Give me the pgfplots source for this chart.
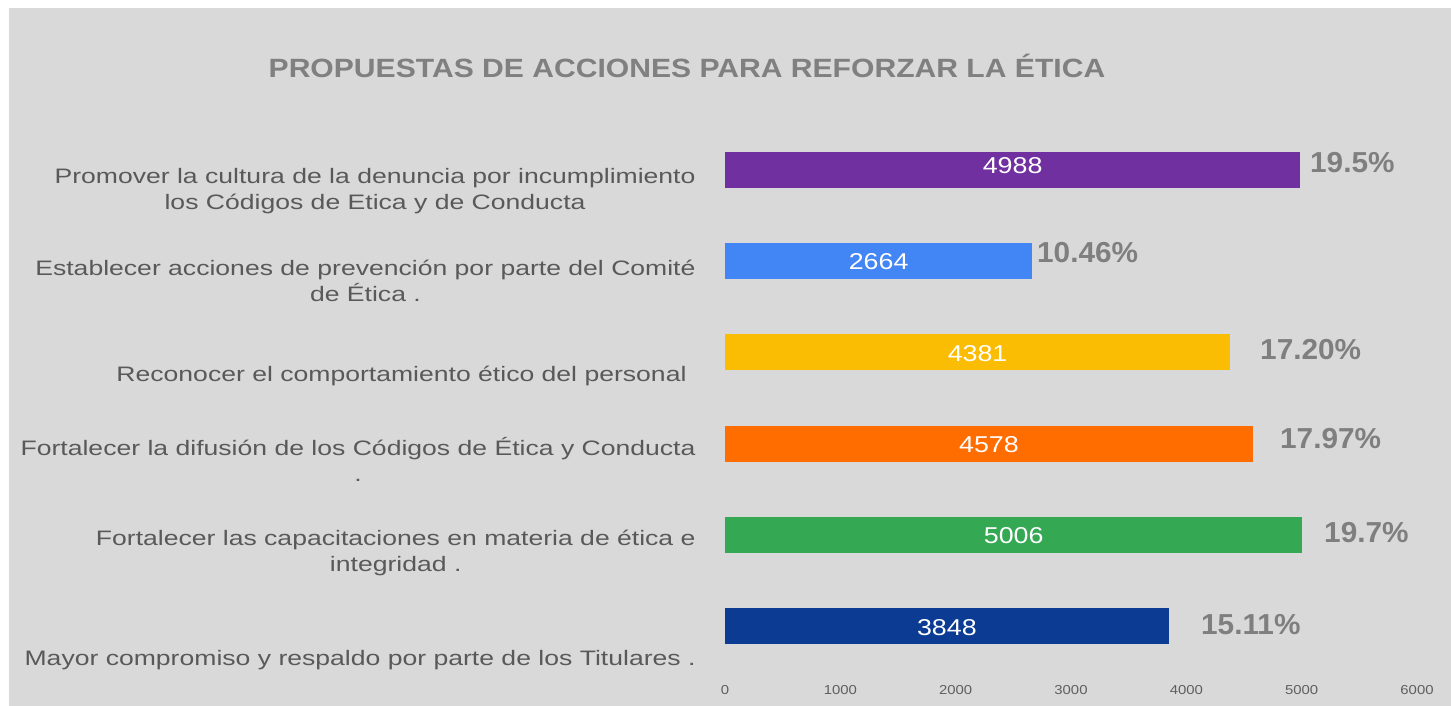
\documentclass[border=0pt]{standalone}
\usepackage{pgfplots}
\pgfplotsset{compat=1.18}
\usepackage{fontspec}
\setmainfont{Liberation Sans}
\newfontfamily\catfont[FakeStretch=1.27]{Liberation Sans}
\newfontfamily\titlefont[FakeStretch=1.14]{Liberation Sans}
\newfontfamily\valfont[FakeStretch=1.17]{Liberation Sans}
\newfontfamily\tickfont[FakeStretch=1.15]{Liberation Sans}
\newfontfamily\pctfont[FakeStretch=1.03]{Liberation Sans}
\definecolor{bg}{HTML}{D9D9D9}
\definecolor{titlegray}{HTML}{808080}
\definecolor{pctgray}{HTML}{7F7F7F}
\definecolor{catgray}{HTML}{595959}
\definecolor{tickgray}{HTML}{5F5F5F}
\definecolor{cpurple}{HTML}{7030A0}
\definecolor{cblue}{HTML}{4285F4}
\definecolor{cyellow}{HTML}{FBBC04}
\definecolor{corange}{HTML}{FF6D01}
\definecolor{cgreen}{HTML}{34A853}
\definecolor{cnavy}{HTML}{0B3B93}
\tikzset{
  val/.style={anchor=center, inner sep=0pt, text=white, font=\valfont\fontsize{23}{23}\selectfont},
  pct/.style={anchor=west, inner sep=0pt, text=pctgray, font=\pctfont\bfseries\fontsize{29}{29}\selectfont},
}
\begin{document}
\begin{tikzpicture}
\path[use as bounding box] (0,0) rectangle (1451bp,706bp);
\fill[white] (0,0) rectangle (1451bp,706bp);
\fill[bg] (9bp,0) rectangle (1451bp,698bp);
\node[anchor=base, inner sep=0pt, text=titlegray, font=\titlefont\bfseries\fontsize{26.5}{30}\selectfont] at (687bp,628.7bp) {PROPUESTAS DE ACCIONES PARA REFORZAR LA ÉTICA};
\begin{axis}[
  at={(725bp,34.4bp)}, anchor=south west, scale only axis,
  width=692bp, height=547.2bp,
  xmin=0, xmax=6000, ymin=-0.5, ymax=5.5,
  xbar, bar width=36bp,
  axis line style={draw=none}, tick style={draw=none},
  xtick={0,1000,2000,3000,4000,5000,6000},
  xticklabels={0,1000,2000,3000,4000,5000,6000},
  x tick label style={anchor=center, yshift=-18.1bp, font=\tickfont\fontsize{13}{13}\selectfont, text=tickgray},
  ytick={-0.371,0.797,1.830,2.740,3.784,4.772},
  yticklabels={
    {Mayor compromiso y respaldo por parte de los Titulares .},
    {Fortalecer las capacitaciones en materia de ética e\\integridad .},
    {Fortalecer la difusión de los Códigos de Ética y Conducta\\.},
    {Reconocer el comportamiento ético del personal\hspace*{9bp}},
    {Establecer acciones de prevención por parte del Comité\\de Ética .},
    {Promover la cultura de la denuncia por incumplimiento\\los Códigos de Etica y de Conducta}},
  y tick label style={anchor=east, inner sep=0pt, xshift=-25bp, align=center, font=\catfont\fontsize{21}{26}\selectfont, text=catgray},
  clip=false,
]
\addplot[fill=cnavy, draw=none, bar shift=0pt] coordinates {(3848,0)};
\addplot[fill=cgreen, draw=none, bar shift=0pt] coordinates {(5006,1)};
\addplot[fill=corange, draw=none, bar shift=0pt] coordinates {(4578,2)};
\addplot[fill=cyellow, draw=none, bar shift=0pt] coordinates {(4381,3)};
\addplot[fill=cblue, draw=none, bar shift=0pt] coordinates {(2664,4)};
\addplot[fill=cpurple, draw=none, bar shift=0pt] coordinates {(4988,5)};
\node[val] at (axis cs:2494,5.047) {4988};
\node[val] at (axis cs:1332,4.0) {2664};
\node[val] at (axis cs:2190,2.99) {4381};
\node[val] at (axis cs:2289,1.99) {4578};
\node[val] at (axis cs:2503,0.99) {5006};
\node[val] at (axis cs:1924,-0.02) {3848};
\node[pct] at (axis cs:5072,5.077) {19.5\%};
\node[pct] at (axis cs:2705,4.099) {10.46\%};
\node[pct] at (axis cs:4639,3.033) {17.20\%};
\node[pct] at (axis cs:4812,2.055) {17.97\%};
\node[pct] at (axis cs:5194,1.022) {19.7\%};
\node[pct] at (axis cs:4127,0.011) {15.11\%};
\end{axis}
\end{tikzpicture}
\end{document}
